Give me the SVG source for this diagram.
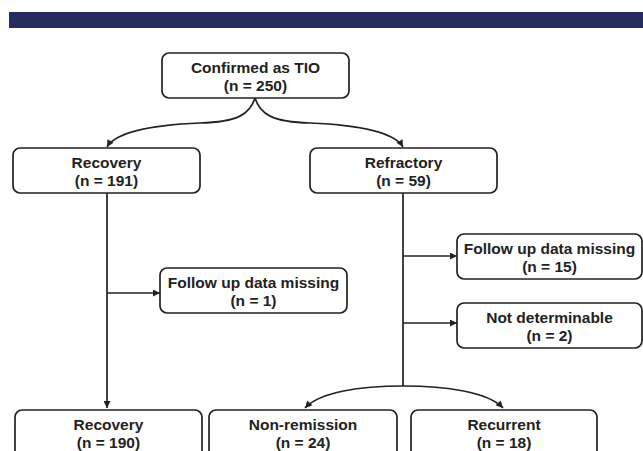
<svg xmlns="http://www.w3.org/2000/svg" width="643" height="451" viewBox="0 0 643 451">
<defs>
<marker id="ah" viewBox="0 0 10 10" refX="10" refY="5" markerWidth="8" markerHeight="7" markerUnits="userSpaceOnUse" orient="auto">
<path d="M0,0 L10,5 L0,10 z" fill="#222"/>
</marker>
<style>
.box{fill:#fff;stroke:#222;stroke-width:1.7}
.t{font-family:"Liberation Sans",Arial,sans-serif;font-weight:bold;font-size:15.5px;fill:#222;text-anchor:middle}
.c{fill:none;stroke:#222;stroke-width:1.7}
</style>
</defs>
<rect width="643" height="451" fill="#fff"/>
<rect x="9" y="12" width="634" height="16" fill="#252c5e"/>

<g id="connectors">
<path class="c" d="M255,98 C250,114 238,122 200,123 C150,125 115,133 107,147" marker-end="url(#ah)"/>
<path class="c" d="M255,98 C260,114 272,122 310,123 C360,125 395,133 403,147" marker-end="url(#ah)"/>
<path class="c" d="M107,193 L107,408" marker-end="url(#ah)"/>
<path class="c" d="M107,293 L160,293" marker-end="url(#ah)"/>
<path class="c" d="M403,193 L403,386"/>
<path class="c" d="M403,256 L457,256" marker-end="url(#ah)"/>
<path class="c" d="M403,323 L457,323" marker-end="url(#ah)"/>
<path class="c" d="M403,386 C360,386 320,392 305,408" marker-end="url(#ah)"/>
<path class="c" d="M403,386 C446,386 488,392 503,408" marker-end="url(#ah)"/>
</g>

<g id="confirmed">
<rect class="box" x="162" y="53" width="187" height="45" rx="7"/>
<text class="t" x="255.5" y="73">Confirmed as TIO</text>
<text class="t" x="255.5" y="91">(n = 250)</text>
</g>
<g id="recovery1">
<rect class="box" x="13" y="148" width="187" height="45" rx="7"/>
<text class="t" x="106.5" y="168">Recovery</text>
<text class="t" x="106.5" y="186">(n = 191)</text>
</g>
<g id="refractory">
<rect class="box" x="310" y="148" width="187" height="45" rx="7"/>
<text class="t" x="403.5" y="168">Refractory</text>
<text class="t" x="403.5" y="186">(n = 59)</text>
</g>
<g id="missing1">
<rect class="box" x="160" y="268" width="187" height="45" rx="7"/>
<text class="t" x="253.5" y="288">Follow up data missing</text>
<text class="t" x="253.5" y="306">(n = 1)</text>
</g>
<g id="missing15">
<rect class="box" x="457" y="234" width="185" height="45" rx="7"/>
<text class="t" x="549.5" y="254">Follow up data missing</text>
<text class="t" x="549.5" y="272">(n = 15)</text>
</g>
<g id="notdet">
<rect class="box" x="457" y="303" width="185" height="45" rx="7"/>
<text class="t" x="549.5" y="323">Not determinable</text>
<text class="t" x="549.5" y="341">(n = 2)</text>
</g>
<g id="recovery2">
<rect class="box" x="15" y="410" width="187" height="50" rx="7"/>
<text class="t" x="108.5" y="430">Recovery</text>
<text class="t" x="108.5" y="448">(n = 190)</text>
</g>
<g id="nonremission">
<rect class="box" x="209" y="410" width="188" height="50" rx="7"/>
<text class="t" x="303" y="430">Non-remission</text>
<text class="t" x="303" y="448">(n = 24)</text>
</g>
<g id="recurrent">
<rect class="box" x="411" y="410" width="186" height="50" rx="7"/>
<text class="t" x="504" y="430">Recurrent</text>
<text class="t" x="504" y="448">(n = 18)</text>
</g>
</svg>
